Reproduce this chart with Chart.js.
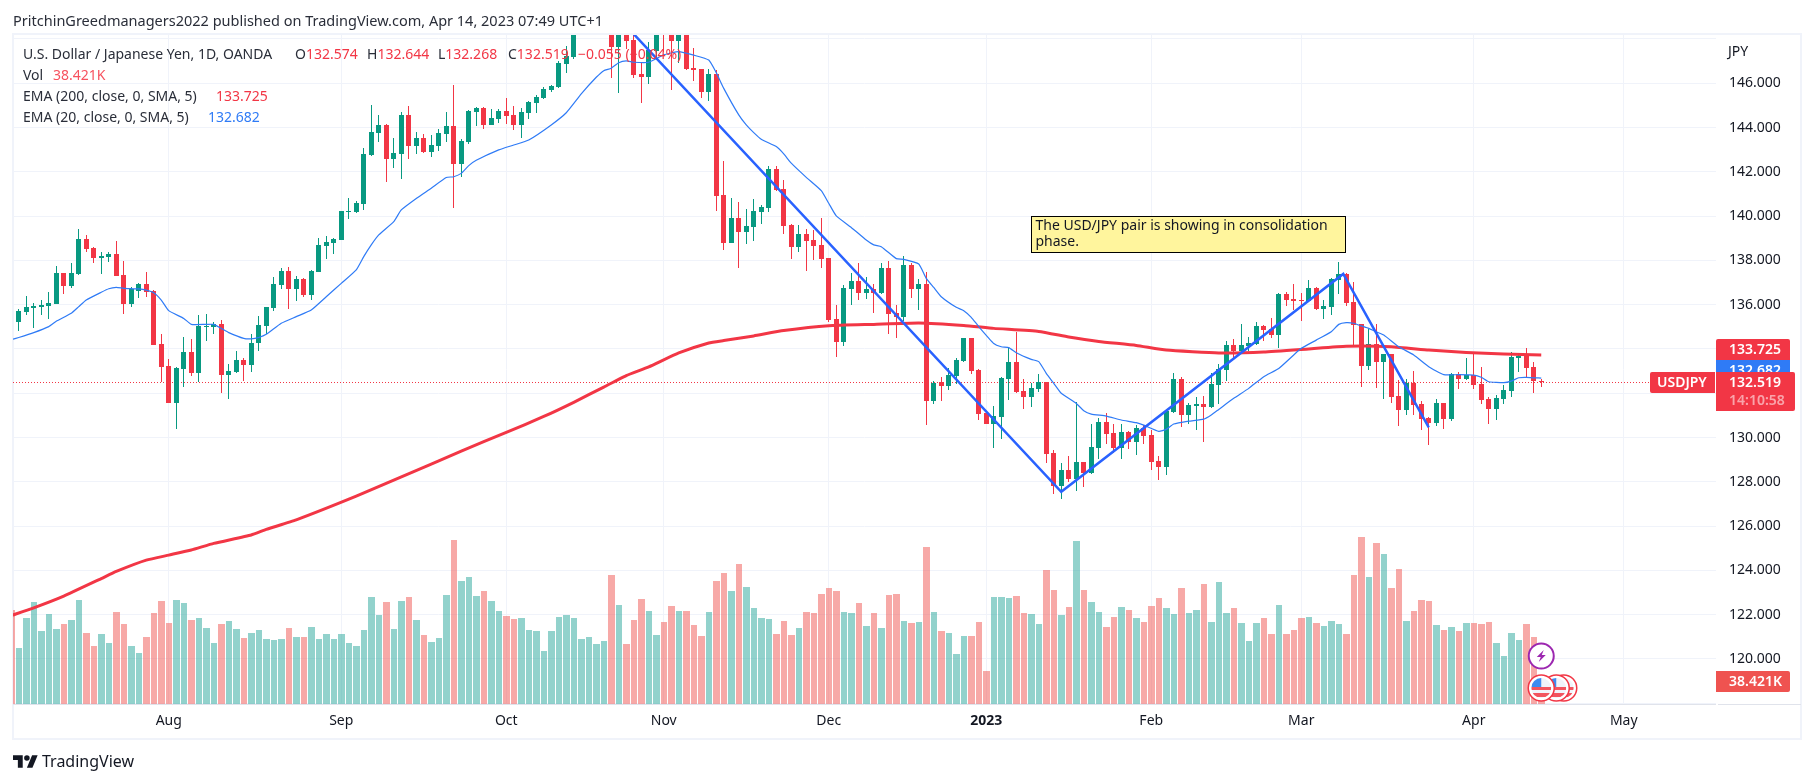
<!DOCTYPE html>
<html>
<head>
<meta charset="utf-8">
<title>USDJPY</title>
<script src="https://cdn.jsdelivr.net/npm/chart.js@4/dist/chart.umd.js"></script>
<style>
    html, body { margin: 0; padding: 0; background: #fff; overflow: hidden; }
    #page { position: relative; width: 1814px; height: 783px; font-family: "Noto Sans", sans-serif; font-size: 14px; color: #2a2e39; }
    #frame { position: absolute; left: 12px; top: 33px; width: 1786px; height: 703px; border: 2px solid #f0f3fa; }
    #barChart { position: absolute; left: 0; top: 0; }
    .t { position: absolute; white-space: nowrap; line-height: 18px; }
    .r { color: #f23645; }
    .rv { color: #f7525f; }
    .b { color: #2f7bf6; }
    #logo { position: absolute; left: 13px; top: 755px; }
</style>
</head>
<body>
<div id="page">
    <div id="frame"></div>
    <canvas id="barChart" width="1814" height="783"></canvas>

    <div class="t" style="left:13px;top:11px;font-size:14.5px">PritchinGreedmanagers2022 published on TradingView.com, Apr 14, 2023 07:49 UTC+1</div>

    <div class="t" style="left:23px;top:45px">U.S. Dollar / Japanese Yen, 1D, OANDA</div>
    <div class="t" style="left:295px;top:45px">O<span class="r">132.574</span></div>
    <div class="t" style="left:367px;top:45px">H<span class="r">132.644</span></div>
    <div class="t" style="left:438px;top:45px">L<span class="r">132.268</span></div>
    <div class="t" style="left:508px;top:45px">C<span class="r">132.519</span></div>
    <div class="t r" style="left:578px;top:45px">−0.055 (−0.04%)</div>
    <div class="t" style="left:23px;top:66px">Vol</div>
    <div class="t rv" style="left:53px;top:66px">38.421K</div>
    <div class="t" style="left:23px;top:87px">EMA (200, close, 0, SMA, 5)</div>
    <div class="t r" style="left:216px;top:87px">133.725</div>
    <div class="t" style="left:23px;top:108px">EMA (20, close, 0, SMA, 5)</div>
    <div class="t b" style="left:208px;top:108px">132.682</div>
    <div class="t" style="left:1728px;top:42px;color:#131722">JPY</div>

    <svg id="logo" width="25" height="13" viewBox="0 4 36 18"><path d="M14 22H7V11H0V4h14v18zM28 22h-8l7.5-18h8L28 22z" fill="#131722"/><circle cx="20" cy="8" r="4" fill="#131722"/></svg>
    <div class="t" style="left:42px;top:752px;font-size:16px;color:#131722">TradingView</div>
</div>

<script>
// daily bars, first one is Jul 2022
const opens = [
    135.23,135.68,135.86,135.91,135.95,136.03,137.42,136.86,137.39,138.97,
    138.56,138.12,138.17,138.29,137.34,136.05,136.63,136.93,136.62,134.21,
    133.23,131.57,133.11,133.86,132.93,135.01,135.01,135.13,132.84,132.97,
    133.50,133.29,134.25,135.05,135.86,136.90,137.52,136.72,137.16,136.44,
    137.49,138.65,138.79,138.92,140.20,140.19,140.55,142.76,143.76,144.12,
    142.58,142.81,144.57,143.17,143.53,142.90,143.17,143.71,144.07,142.36,
    143.35,144.70,144.89,144.12,144.39,144.75,144.57,144.12,144.66,145.11,
    145.34,145.70,145.83,146.87,147.19,148.62,149.05,149.20,149.88,150.10,
    147.64,149.00,147.96,146.42,146.29,147.46,148.70,148.30,147.91,148.30,
    146.69,146.65,145.61,146.42,140.96,138.79,139.92,139.28,139.51,140.19,
    140.37,142.13,141.23,139.60,138.61,139.19,138.92,138.70,138.11,135.35,
    134.31,136.71,137.07,136.53,136.71,136.52,137.66,135.62,135.44,137.79,
    136.71,136.93,131.65,132.49,132.33,132.78,133.46,134.49,133.05,131.11,
    130.61,130.93,132.64,133.41,132.10,131.83,132.19,132.51,129.30,127.81,
    128.53,128.12,128.89,128.40,129.52,130.70,130.20,129.52,130.25,129.80,
    130.43,130.11,128.94,128.67,131.15,132.64,131.02,131.42,131.51,131.38,
    132.37,133.05,134.18,133.91,134.13,134.23,135.04,134.90,134.63,136.48,
    136.26,136.21,136.17,136.75,135.80,135.89,137.11,137.39,136.12,135.13,
    133.23,134.23,133.41,133.77,131.87,131.24,132.46,131.51,130.88,130.65,
    131.56,130.83,132.87,132.64,132.82,132.42,131.74,131.29,131.74,132.10,
    133.59,133.68,133.18,132.574
];
const highs = [
    135.80,136.39,136.06,136.21,136.56,137.75,137.45,137.87,139.42,139.15,
    138.59,138.40,138.36,138.88,137.97,136.81,136.98,137.48,136.65,134.67,
    133.55,133.18,134.54,134.45,135.53,135.58,135.23,135.31,133.32,133.91,
    133.58,134.67,135.49,135.90,137.25,137.66,137.70,137.28,137.20,137.57,
    139.01,139.10,139.01,140.25,140.82,140.68,143.08,145.02,144.57,144.16,
    143.53,144.70,144.98,143.80,143.71,143.67,143.94,144.70,145.92,143.48,
    144.80,144.93,144.92,144.84,144.84,145.34,144.98,144.89,145.18,145.47,
    145.83,145.92,147.01,147.69,148.85,149.10,149.30,149.95,150.30,151.90,
    149.70,149.10,148.40,146.96,147.87,148.85,148.85,148.45,148.40,148.50,
    147.60,146.66,146.65,146.60,142.49,140.82,140.64,140.32,140.77,140.50,
    142.27,142.27,141.63,139.64,139.60,139.42,139.37,139.92,138.13,135.99,
    136.89,137.43,137.88,137.25,136.93,137.88,137.97,135.99,138.20,137.88,
    137.16,137.48,132.55,132.73,133.14,133.59,134.51,134.51,133.09,131.12,
    131.42,132.73,134.04,134.77,132.64,132.46,132.87,132.53,129.43,128.85,
    129.17,131.60,128.91,130.61,130.88,131.11,130.61,130.61,130.29,130.56,
    130.56,130.34,129.17,131.22,132.91,132.73,131.56,131.83,131.88,132.91,
    133.32,134.36,134.45,135.13,134.54,135.22,135.08,135.40,136.53,136.57,
    136.93,136.53,137.11,136.80,136.21,137.20,137.93,137.41,137.02,135.15,
    134.90,135.13,133.78,133.78,132.60,132.64,133.00,131.65,130.92,131.74,
    131.58,132.91,132.96,133.59,133.77,133.18,131.83,131.92,132.37,133.86,
    133.82,134.04,133.41,132.644
];
const lows = [
    134.81,135.53,134.93,135.53,135.35,136.03,136.48,136.74,137.34,138.40,
    137.88,137.39,137.93,137.29,135.58,135.91,136.32,136.35,134.17,132.49,
    131.55,130.40,132.30,132.79,132.52,134.37,134.67,132.02,131.75,132.90,
    132.55,132.97,133.92,134.67,135.71,136.72,135.82,136.17,136.36,136.21,
    137.49,138.06,138.29,138.90,139.87,140.14,140.28,142.72,143.35,141.54,
    142.17,141.68,142.58,142.81,142.85,142.67,142.94,143.35,140.37,141.77,
    143.26,144.07,143.94,144.10,144.21,144.16,143.89,143.53,144.39,144.66,
    145.29,145.61,145.79,146.47,147.10,148.50,148.18,149.00,149.60,146.24,
    145.56,147.55,146.24,145.11,145.97,147.05,147.43,145.70,146.90,146.60,
    146.11,145.34,145.20,140.23,138.47,138.77,137.66,138.74,138.88,139.64,
    140.19,141.14,139.19,138.06,138.38,137.52,138.02,137.66,135.22,133.64,
    134.13,135.99,136.21,136.26,135.62,136.48,134.67,134.49,135.26,136.30,
    135.76,130.56,131.51,131.65,132.15,132.42,133.41,132.87,130.79,130.60,
    129.52,129.93,131.69,132.01,131.29,131.38,132.06,128.85,127.45,127.22,
    127.98,127.58,127.76,128.35,129.03,129.71,129.30,129.03,129.48,129.21,
    129.71,128.53,128.08,128.31,131.13,130.48,130.61,130.34,129.80,131.33,
    131.51,132.55,133.59,133.86,133.91,134.18,134.36,134.49,134.04,135.94,
    135.76,135.26,136.12,135.76,135.35,135.53,136.48,135.94,134.13,132.28,
    133.05,132.24,131.74,131.56,130.52,131.02,131.02,130.34,129.66,130.52,
    130.38,130.74,132.19,132.62,132.19,131.51,130.61,130.79,131.51,131.83,
    132.96,132.69,132.01,132.268
];
const closes = [
    135.71,135.89,135.95,135.99,136.08,137.42,136.86,137.42,138.97,138.52,
    138.12,138.20,138.29,137.31,136.05,136.71,136.93,136.59,134.19,133.20,
    131.57,133.14,133.86,132.93,135.04,135.05,135.13,132.84,132.99,133.50,
    133.29,134.25,135.08,135.89,136.93,137.52,136.72,137.18,136.44,137.52,
    138.70,138.83,138.97,140.23,140.23,140.59,142.81,143.80,144.12,142.58,
    142.85,144.57,143.17,143.53,142.90,143.21,143.76,144.07,142.36,143.39,
    144.75,144.89,144.12,144.43,144.75,144.52,144.12,144.70,145.16,145.38,
    145.74,145.88,146.92,147.23,148.62,149.05,149.20,149.88,150.10,147.66,
    149.00,147.91,146.38,146.29,147.51,148.70,148.30,147.91,148.30,146.65,
    146.60,145.61,146.42,140.91,138.79,139.92,139.28,139.55,140.23,140.41,
    142.13,141.18,139.55,138.61,139.19,138.88,138.65,138.06,135.31,134.31,
    136.75,137.07,136.53,136.71,136.53,137.66,135.58,135.44,137.79,136.71,
    136.93,131.65,132.46,132.33,132.82,133.50,134.49,133.00,131.06,130.61,
    130.97,132.69,133.41,132.06,131.83,132.24,132.51,129.25,127.81,128.53,
    128.12,128.89,128.40,129.57,130.70,130.16,129.52,130.25,129.80,130.43,
    130.07,128.89,128.67,131.20,132.64,131.02,131.47,131.51,131.38,132.42,
    133.09,134.18,133.91,134.18,134.27,135.04,134.86,134.63,136.48,136.21,
    136.17,136.15,136.75,135.80,135.94,137.16,137.39,136.08,135.08,133.23,
    134.23,133.41,133.77,131.83,131.24,132.46,131.47,130.83,130.65,131.56,
    130.83,132.87,132.64,132.82,132.37,131.69,131.29,131.78,132.15,133.64,
    133.68,133.14,132.55,132.519
];
// in thousands
const volumes = [
    96.5,148.2,175.8,125.8,155.1,129.2,137.9,144.7,179.2,122.3,
    99.9,120.6,105.1,158.5,137.9,99.9,87.9,115.5,156.8,177.5,
    139.6,179.2,174.0,144.7,148.2,131.0,105.1,137.9,143.0,129.2,
    113.7,122.3,127.5,112.0,110.3,112.0,131.0,115.5,115.5,132.7,
    112.0,120.6,112.0,120.6,105.1,99.9,127.5,184.4,153.4,175.8,
    129.2,177.5,184.4,144.7,118.9,106.8,113.7,187.8,282.6,212.0,
    218.8,186.1,194.7,177.5,160.3,151.6,146.5,148.2,127.5,125.8,
    91.3,125.8,149.9,153.4,148.2,112.0,115.5,103.4,108.6,222.3,
    170.6,103.4,144.7,180.9,160.3,118.9,141.3,168.9,160.3,160.3,
    136.1,117.2,158.5,212.0,225.7,194.7,241.2,201.6,165.4,148.2,
    146.5,120.6,143.0,118.9,131.0,158.5,156.8,189.5,199.9,194.7,
    158.5,156.8,174.0,134.4,156.8,131.0,187.8,189.5,143.0,139.6,
    141.3,270.5,158.5,125.8,122.3,86.2,117.2,117.2,141.3,56.9,
    184.4,184.4,182.7,186.1,156.8,155.1,137.9,230.9,196.4,153.4,
    167.1,280.9,196.4,175.8,158.5,132.7,149.9,167.1,162.0,148.2,
    141.3,168.9,182.7,165.4,155.1,199.9,156.8,162.0,206.8,141.3,
    210.2,156.8,165.4,139.6,108.6,139.6,148.2,120.6,170.6,120.6,
    127.5,148.2,149.9,139.6,134.4,143.0,137.9,120.6,222.3,287.8,
    218.8,277.4,258.5,199.9,232.6,143.0,160.3,179.2,177.5,136.1,
    127.5,132.7,125.8,139.6,139.6,137.9,141.3,105.1,82.7,122.3,
    110.3,137.9,115.5,38.421
];
// the bar before the first one, only a sliver of its volume shows at the left edge
const clippedVolume = 162.0;

// EMA lines, bar number then value
const ema200Bars = [-1,2,6,11,13,17,20,23,26,31,33,37,45,50,55,59,65,70,74,78,81,84,88,92,94,98,102,108,114,120,126,130,136,140,144,149,153,160,166,172,177,183,188,193,198,203];
const ema200Values = [121.96,122.31,122.84,123.63,123.95,124.46,124.69,124.92,125.22,125.60,125.85,126.28,127.35,128.08,128.80,129.39,130.23,130.95,131.59,132.28,132.80,133.19,133.82,134.27,134.38,134.59,134.83,135.05,135.11,135.17,135.06,134.93,134.79,134.54,134.34,134.16,133.95,133.82,133.86,134.00,134.12,134.10,133.95,133.84,133.77,133.725];
const ema20Bars = [-1,0,2,4,5,7,8,9,11,12,13,14,16,17,18,19,20,22,23,25,26,27,28,30,31,32,33,35,37,39,41,43,45,46,47,48,50,51,53,55,57,58,59,60,61,64,66,68,71,73,75,77,78,79,80,81,82,84,86,88,90,92,93,94,96,97,98,99,101,102,103,105,107,108,109,111,113,114,115,117,118,120,121,122,123,125,126,127,128,130,131,132,133,135,136,137,138,139,141,142,143,145,147,149,150,152,153,154,156,158,159,160,162,164,166,168,170,171,173,175,176,177,178,179,180,181,182,184,186,188,190,192,194,195,196,198,199,200,201,203];
const ema20Values = [134.42,134.52,134.74,135.01,135.25,135.61,135.91,136.21,136.56,136.72,136.78,136.74,136.71,136.66,136.54,136.21,135.73,135.38,135.11,135.11,135.11,134.93,134.74,134.48,134.46,134.52,134.66,135.16,135.46,135.76,136.36,136.96,137.57,138.17,138.70,139.15,139.75,140.28,140.80,141.26,141.74,141.78,141.93,142.28,142.52,142.99,143.21,143.44,144.12,144.67,145.52,146.27,146.57,146.68,146.93,147.01,146.95,146.95,147.28,147.43,147.27,147.05,146.48,145.77,144.57,144.12,143.77,143.47,143.14,142.81,142.39,141.75,141.15,140.58,140.01,139.49,138.92,138.70,138.62,138.08,138.05,137.84,137.19,136.78,136.36,135.88,135.73,135.43,135.01,134.25,134.10,134.06,133.83,133.53,133.43,132.90,132.45,132.00,131.54,131.21,131.06,130.97,130.79,130.67,130.56,130.28,130.37,130.61,130.74,130.83,131.02,131.27,131.77,132.22,132.75,133.12,133.73,134.03,134.40,134.78,135.11,135.19,135.16,135.04,134.93,134.77,134.63,134.10,133.73,133.20,132.84,132.84,132.82,132.72,132.52,132.48,132.55,132.70,132.72,132.682];

// hand drawn trend line
const trendBars = [79,139,176.6,188];
const trendPrices = [149.31,127.55,137.39,130.46];

const priceTicks = [148,146,144,142,140,138,136,134,132,130,128,126,124,122,120,118];
const priceLabels = [146,144,142,140,138,136,134,132,130,128,126,124,122,120];
const monthBars = [20,43,65,86,108,129,151,171,194,214];
const monthLabels = ['Aug','Sep','Oct','Nov','Dec','2023','Feb','Mar','Apr','May'];
const eventBars = [206,205,203];

const lastPrice = 132.519, lastEma200 = 133.725, lastEma20 = 132.682, lastVolume = 38.421;
const noteBar = 134.9, notePrice = 140.0;

const UP = '#089981', DOWN = '#f23645', BLUE = '#2f7bf6', GRID = '#f0f3fa', TEXT = '#131722';
const FONT = '"Noto Sans", sans-serif';

const barNumbers = opens.map((v, i) => i);
const isUp = opens.map((v, i) => closes[i] >= v);
const candleColors = isUp.map(u => u ? UP : DOWN);
const volumeColors = ['rgba(239,83,80,0.5)'].concat(isUp.map(u => u ? 'rgba(38,166,154,0.5)' : 'rgba(239,83,80,0.5)'));
const zip = (xs, ys) => xs.map((x, i) => ({ x: x, y: ys[i] }));

function roundRect(ctx, x, y, w, h, r, color) {
    ctx.fillStyle = color;
    ctx.beginPath();
    ctx.roundRect(x, y, w, h, r);
    ctx.fill();
}

function label(ctx, str, x, y, color, font) {
    ctx.fillStyle = color;
    ctx.font = font || '600 14px ' + FONT;
    ctx.textAlign = 'left';
    ctx.textBaseline = 'middle';
    ctx.fillText(str, x, y);
}

function usFlag(ctx, cx, cy) {
    ctx.save();
    ctx.beginPath();
    ctx.arc(cx, cy, 13, 0, Math.PI * 2);
    ctx.fillStyle = '#fff';
    ctx.fill();
    ctx.strokeStyle = DOWN;
    ctx.lineWidth = 1.5;
    ctx.stroke();
    ctx.beginPath();
    ctx.arc(cx, cy, 10, 0, Math.PI * 2);
    ctx.clip();
    ctx.fillStyle = '#f0f3fa';
    ctx.fillRect(cx - 10, cy - 10, 20, 20);
    ctx.fillStyle = '#f2545f';
    ctx.fillRect(cx - 10, cy - 1, 20, 3);
    ctx.fillRect(cx - 10, cy + 5, 20, 4);
    ctx.fillStyle = '#3d8bf0';
    ctx.fillRect(cx - 10, cy - 10, 10, 9);
    ctx.restore();
}

// TradingView puts its bars on whole pixels, do the same so wicks stay sharp
const snapBars = {
    id: 'snapBars',
    afterDatasetsUpdate(chart) {
        chart.data.datasets.forEach((ds, d) => {
            if (ds.type !== 'bar') return;
            chart.getDatasetMeta(d).data.forEach(el => {
                const px = el.x;
                if (ds.slotWidth) {
                    const left = Math.ceil(px - ds.slotWidth / 2);
                    const right = Math.ceil(px + ds.slotWidth / 2);
                    el.width = right - left - 1;
                    el.x = left + el.width / 2;
                    el.y = Math.round(el.y);
                    el.base = Math.round(el.base);
                } else {
                    el.x = Math.floor(px) + 0.5;
                    const top = Math.round(Math.min(el.y, el.base));
                    let bottom = Math.round(Math.max(el.y, el.base));
                    if (bottom - top < 1) bottom = top + 1;
                    el.y = top;
                    el.base = bottom;
                }
            });
        });
    }
};

const overlay = {
    id: 'overlay',
    beforeDatasetsDraw(chart) {
        const ctx = chart.ctx, a = chart.chartArea, y = chart.scales.y;
        const py = Math.round(y.getPixelForValue(lastPrice)) + 0.5;
        ctx.save();
        ctx.strokeStyle = DOWN;
        ctx.lineWidth = 1;
        ctx.setLineDash([1, 2]);
        ctx.beginPath();
        ctx.moveTo(a.left, py);
        ctx.lineTo(a.right, py);
        ctx.stroke();
        ctx.restore();
    },
    afterDraw(chart) {
        const ctx = chart.ctx, a = chart.chartArea, x = chart.scales.x, y = chart.scales.y, v = chart.scales.yVol;
        ctx.save();

        // axis line under the pane
        ctx.strokeStyle = '#e0e3eb';
        ctx.beginPath();
        ctx.moveTo(a.left, a.bottom + 0.5);
        ctx.lineTo(a.right, a.bottom + 0.5);
        ctx.moveTo(a.right + 2, a.bottom + 0.5);
        ctx.lineTo(a.right + 85, a.bottom + 0.5);
        ctx.stroke();

        // note
        const nx = Math.round(x.getPixelForValue(noteBar)) + 0.5;
        const ny = Math.round(y.getPixelForValue(notePrice)) + 0.5;
        ctx.fillStyle = '#fff59d';
        ctx.strokeStyle = '#000';
        ctx.lineWidth = 1;
        ctx.fillRect(nx, ny, 314, 36);
        ctx.strokeRect(nx, ny, 314, 36);
        label(ctx, 'The USD/JPY pair is showing in consolidation', nx + 4, ny + 10, TEXT, '14px ' + FONT);
        label(ctx, 'phase.', nx + 4, ny + 26, TEXT, '14px ' + FONT);

        // price tags on the scale
        const tx = a.right, tagW = 74;
        const py = Math.round(y.getPixelForValue(lastPrice));
        roundRect(ctx, tx, py - 43, tagW, 21, [2, 2, 0, 0], DOWN);
        label(ctx, lastEma200.toFixed(3), tx + 13, py - 32, '#fff');
        roundRect(ctx, tx, py - 22, tagW, 21, [0, 0, 2, 0], BLUE);
        label(ctx, lastEma20.toFixed(3), tx + 13, py - 11, '#fff');
        roundRect(ctx, tx, py - 10 + 0, 79, 39, [0, 2, 2, 0], DOWN);
        label(ctx, lastPrice.toFixed(3), tx + 13, py + 1, '#fff');
        label(ctx, '14:10:58', tx + 13, py + 19, 'rgba(255,255,255,0.55)');
        roundRect(ctx, tx - 66, py - 10, 65, 21, [2, 0, 0, 2], DOWN);
        label(ctx, 'USDJPY', tx - 59, py + 1, '#fff');

        const vy = Math.round(v.getPixelForValue(lastVolume));
        roundRect(ctx, tx, vy - 11, tagW, 21, [0, 2, 2, 0], '#ef5350');
        label(ctx, lastVolume.toFixed(3) + 'K', tx + 13, vy, '#fff');

        // event icons at the bottom of the pane
        eventBars.forEach(b => usFlag(ctx, x.getPixelForValue(b), a.bottom - 16));
        const cx = x.getPixelForValue(eventBars[2]), cy = a.bottom - 48;
        ctx.beginPath();
        ctx.arc(cx, cy, 12.5, 0, Math.PI * 2);
        ctx.fillStyle = '#fff';
        ctx.fill();
        ctx.strokeStyle = '#9c27b0';
        ctx.lineWidth = 2;
        ctx.stroke();
        ctx.fillStyle = '#9c27b0';
        ctx.beginPath();
        ctx.moveTo(cx + 2.5, cy - 6);
        ctx.lineTo(cx - 4.5, cy + 1);
        ctx.lineTo(cx - 0.5, cy + 1);
        ctx.lineTo(cx - 2.5, cy + 6);
        ctx.lineTo(cx + 4.5, cy - 1);
        ctx.lineTo(cx + 0.5, cy - 1);
        ctx.closePath();
        ctx.fill();
        ctx.restore();
    }
};

document.addEventListener('DOMContentLoaded', function () {
    const ctx = document.getElementById('barChart').getContext('2d');
    const barChart = new Chart(ctx, {
        type: 'bar',
        plugins: [snapBars, overlay],
        data: {
            datasets: [
                {
                    type: 'line', label: 'Trend', order: 1,
                    data: zip(trendBars, trendPrices),
                    borderColor: '#2962ff', borderWidth: 2.5, pointRadius: 0, xAxisID: 'x', yAxisID: 'y'
                },
                {
                    type: 'line', label: 'EMA 20', order: 2,
                    data: zip(ema20Bars, ema20Values),
                    borderColor: BLUE, borderWidth: 1.2, pointRadius: 0, tension: 0.15, xAxisID: 'x', yAxisID: 'y'
                },
                {
                    type: 'line', label: 'EMA 200', order: 3,
                    data: zip(ema200Bars, ema200Values),
                    borderColor: DOWN, borderWidth: 3, pointRadius: 0, tension: 0.15, xAxisID: 'x', yAxisID: 'y'
                },
                {
                    type: 'bar', label: 'Body', order: 4,
                    data: barNumbers.map(i => ({ x: i, y: [opens[i], closes[i]] })),
                    backgroundColor: candleColors, barThickness: 5, inflateAmount: 0,
                    borderWidth: 0, xAxisID: 'x', yAxisID: 'y'
                },
                {
                    type: 'bar', label: 'Wick', order: 5,
                    data: barNumbers.map(i => ({ x: i, y: [lows[i], highs[i]] })),
                    backgroundColor: candleColors, barThickness: 1, inflateAmount: 0,
                    borderWidth: 0, xAxisID: 'x', yAxisID: 'y'
                },
                {
                    type: 'bar', label: 'Vol', order: 6,
                    data: [{ x: -1, y: clippedVolume }].concat(zip(barNumbers, volumes)),
                    backgroundColor: volumeColors, barThickness: 6, inflateAmount: 0, slotWidth: 7.5,
                    borderWidth: 0, xAxisID: 'x', yAxisID: 'yVol'
                }
            ]
        },
        options: {
            responsive: false,
            animation: false,
            events: [],
            layout: { padding: { left: 13, top: 35, right: 13, bottom: 44 } },
            datasets: { bar: { grouped: false } },
            plugins: { legend: { display: false }, tooltip: { enabled: false } },
            scales: {
                x: {
                    type: 'linear',
                    offset: false,
                    min: -0.767,
                    max: 226.3,
                    grid: { color: GRID, offset: false, drawTicks: false },
                    border: { display: false },
                    afterBuildTicks: axis => { axis.ticks = monthBars.map(b => ({ value: b })); },
                    afterFit: axis => { axis.height = 35; },
                    ticks: {
                        autoSkip: false,
                        maxRotation: 0,
                        padding: 9,
                        color: TEXT,
                        font: c => ({ family: FONT, size: 14, weight: monthLabels[c.index] === '2023' ? 'bold' : 'normal' }),
                        callback: (value) => monthLabels[monthBars.indexOf(value)]
                    }
                },
                y: {
                    position: 'right',
                    min: 117.965,
                    max: 148.18,
                    grid: { color: GRID, drawTicks: false },
                    border: { display: false },
                    afterBuildTicks: axis => { axis.ticks = priceTicks.map(p => ({ value: p })); },
                    afterFit: axis => { axis.width = 85; },
                    ticks: {
                        autoSkip: false,
                        padding: 13,
                        color: TEXT,
                        font: { family: FONT, size: 14 },
                        callback: value => priceLabels.includes(value) ? value.toFixed(3) : ''
                    }
                },
                yVol: { display: false, min: 0, max: 1153 }
            }
        }
    });
});
</script>
</body>
</html>
